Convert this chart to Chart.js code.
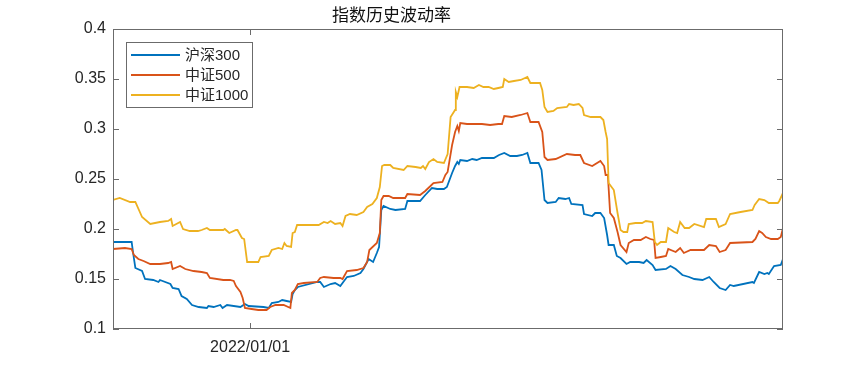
<!DOCTYPE html>
<html>
<head>
<meta charset="utf-8">
<script src="https://cdn.jsdelivr.net/npm/chart.js@4"></script>
<style>
  html, body { margin: 0; padding: 0; background: #fff; }
  #wrap { width: 865px; height: 371px; position: relative; }
</style>
</head>
<body>
<div id="wrap"><canvas id="vol-chart"></canvas></div>
<script>
// x = days since 2021/07/01
const START_DATE = '2021/07/01'
const X_MAX = 899
const xTickDays = [184]
const xTickLabels = ['2022/01/01']
const yTicks = [0.1, 0.15, 0.2, 0.25, 0.3, 0.35, 0.4]

const seriesNames = ['沪深300', '中证500', '中证1000']
const seriesColors = ['#0072BD', '#D95319', '#EDB120']

const hs300Days = [0,25,27,30,39,43,54,61,63,77,80,88,92,99,106,115,126,128,135,144,147,153,171,177,182,202,209,213,222,227,233,239,241,244,248,274,278,283,292,298,305,309,314,323,332,336,343,349,354,357,360,363,372,379,392,395,412,419,428,435,444,448,455,459,462,464,466,475,482,488,495,511,518,525,533,542,549,556,560,571,575,579,583,594,598,607,612,615,630,632,643,647,654,659,663,665,672,676,681,689,694,706,712,716,724,728,742,748,755,764,773,780,791,800,806,814,822,828,833,858,860,867,874,878,880,887,896,899]
const hs300Vol = [0.187,0.187,0.176,0.161,0.158,0.150,0.149,0.147,0.149,0.145,0.141,0.140,0.133,0.130,0.124,0.122,0.121,0.123,0.122,0.124,0.121,0.124,0.122,0.125,0.123,0.122,0.121,0.126,0.127,0.129,0.128,0.127,0.135,0.139,0.142,0.147,0.147,0.142,0.145,0.146,0.143,0.147,0.152,0.153,0.156,0.160,0.170,0.167,0.176,0.182,0.219,0.223,0.220,0.219,0.220,0.228,0.228,0.234,0.241,0.240,0.240,0.242,0.256,0.263,0.267,0.265,0.269,0.268,0.270,0.269,0.271,0.271,0.274,0.276,0.273,0.273,0.274,0.276,0.266,0.266,0.259,0.229,0.226,0.227,0.231,0.230,0.231,0.225,0.224,0.215,0.213,0.216,0.216,0.211,0.194,0.184,0.184,0.173,0.171,0.165,0.167,0.167,0.166,0.169,0.164,0.159,0.160,0.163,0.160,0.154,0.152,0.150,0.149,0.152,0.147,0.141,0.139,0.144,0.143,0.147,0.146,0.157,0.155,0.156,0.155,0.163,0.164,0.170]

const zz500Days = [0,16,25,28,34,41,50,63,74,78,80,90,97,108,119,126,130,148,157,162,165,171,174,177,186,195,206,211,218,229,238,240,244,248,256,274,278,283,296,305,308,314,327,336,341,344,354,358,360,363,370,376,392,395,412,419,426,430,442,446,449,455,459,462,464,466,475,482,488,495,506,517,522,525,535,547,556,560,571,576,579,583,594,609,620,627,632,643,654,659,661,664,667,672,677,681,689,692,699,708,715,721,726,728,735,742,745,755,761,766,775,793,800,809,814,822,828,858,862,867,871,876,883,892,896,899]
const zz500Vol = [0.180,0.181,0.180,0.174,0.170,0.168,0.165,0.165,0.166,0.167,0.160,0.163,0.160,0.158,0.157,0.156,0.151,0.149,0.149,0.148,0.143,0.137,0.131,0.121,0.120,0.119,0.119,0.122,0.124,0.124,0.121,0.136,0.139,0.145,0.146,0.147,0.151,0.152,0.151,0.151,0.150,0.158,0.159,0.161,0.167,0.179,0.186,0.196,0.229,0.233,0.233,0.231,0.231,0.235,0.234,0.238,0.243,0.246,0.247,0.254,0.257,0.284,0.297,0.303,0.298,0.306,0.305,0.305,0.305,0.305,0.304,0.305,0.305,0.313,0.312,0.314,0.316,0.307,0.307,0.297,0.272,0.269,0.270,0.275,0.274,0.274,0.266,0.263,0.268,0.263,0.254,0.254,0.216,0.211,0.197,0.184,0.177,0.186,0.189,0.189,0.192,0.190,0.189,0.171,0.172,0.173,0.180,0.177,0.181,0.176,0.179,0.179,0.184,0.183,0.177,0.179,0.186,0.187,0.190,0.198,0.196,0.192,0.190,0.190,0.192,0.201]

const zz1000Days = [0,9,23,30,39,50,63,74,78,80,90,94,103,114,119,126,130,148,150,156,165,167,173,176,180,195,198,209,213,222,227,230,233,239,241,244,247,276,283,288,292,298,305,308,312,318,327,336,341,348,354,358,361,364,372,376,390,395,406,413,416,419,424,430,435,444,449,453,459,460,462,465,475,484,491,497,504,511,517,523,525,531,538,547,556,560,573,576,579,583,591,596,609,612,618,625,630,632,641,654,658,661,663,665,672,677,681,685,690,692,701,710,715,724,727,730,735,742,745,753,757,761,767,773,780,793,796,809,813,822,828,842,858,861,867,874,880,892,894,899]
const zz1000Vol = [0.229,0.231,0.227,0.227,0.212,0.205,0.207,0.208,0.210,0.203,0.207,0.200,0.198,0.198,0.199,0.201,0.199,0.199,0.200,0.196,0.199,0.199,0.191,0.190,0.167,0.167,0.172,0.173,0.179,0.181,0.180,0.186,0.183,0.182,0.196,0.197,0.204,0.204,0.207,0.206,0.208,0.205,0.206,0.203,0.213,0.215,0.214,0.217,0.222,0.225,0.231,0.242,0.263,0.264,0.264,0.261,0.259,0.263,0.262,0.261,0.263,0.260,0.267,0.270,0.267,0.266,0.275,0.312,0.319,0.337,0.332,0.342,0.342,0.341,0.344,0.342,0.342,0.340,0.341,0.342,0.350,0.347,0.348,0.349,0.352,0.346,0.346,0.339,0.322,0.317,0.318,0.321,0.322,0.325,0.324,0.325,0.321,0.314,0.312,0.312,0.309,0.297,0.290,0.246,0.239,0.216,0.199,0.197,0.197,0.205,0.206,0.206,0.208,0.207,0.187,0.184,0.187,0.187,0.201,0.197,0.196,0.207,0.201,0.201,0.205,0.202,0.210,0.210,0.202,0.205,0.215,0.217,0.219,0.224,0.230,0.229,0.226,0.226,0.228,0.236]

const FONT = "'Liberation Sans', Arial, 'Noto Sans CJK SC', sans-serif"
const TEXT_COLOR = '#262626'
const AXIS_COLOR = '#6b6b6b'

function toPoints(days, vals) {
    return days.map((d, i) => ({ x: d, y: vals[i] }))
}

// MATLAB style box with inward ticks
const boxPlugin = {
    id: 'boxPlugin',
    afterDatasetsDraw(chart) {
        const { ctx, chartArea: a, scales } = chart
        ctx.save()
        ctx.strokeStyle = AXIS_COLOR
        ctx.lineWidth = 1
        ctx.strokeRect(Math.round(a.left) + 0.5, Math.round(a.top) + 0.5,
            Math.round(a.right - a.left) - 1, Math.round(a.bottom - a.top) - 1)
        ctx.beginPath()
        yTicks.forEach(v => {
            const y = Math.round(scales.y.getPixelForValue(v)) + 0.5
            ctx.moveTo(a.left, y); ctx.lineTo(a.left + 6, y)
            ctx.moveTo(a.right, y); ctx.lineTo(a.right - 6, y)
        })
        xTickDays.forEach(d => {
            const x = Math.round(scales.x.getPixelForValue(d)) + 0.5
            ctx.moveTo(x, a.bottom); ctx.lineTo(x, a.bottom - 6)
            ctx.moveTo(x, a.top); ctx.lineTo(x, a.top + 6)
        })
        ctx.stroke()
        ctx.restore()
    }
}

// legend box in the upper left of the plot
const legendPlugin = {
    id: 'legendPlugin',
    afterDraw(chart) {
        const { ctx, chartArea: a } = chart
        const bx = a.left + 13, by = a.top + 13, bw = 126, bh = 65
        ctx.save()
        ctx.fillStyle = '#fff'
        ctx.fillRect(bx, by, bw, bh)
        ctx.strokeStyle = AXIS_COLOR
        ctx.lineWidth = 1
        ctx.strokeRect(bx + 0.5, by + 0.5, bw, bh)
        ctx.font = '15px ' + FONT
        ctx.textBaseline = 'middle'
        chart.data.datasets.forEach((ds, i) => {
            const y = by + 13 + i * 20
            ctx.strokeStyle = ds.borderColor
            ctx.lineWidth = 2
            ctx.beginPath()
            ctx.moveTo(bx + 5, y); ctx.lineTo(bx + 54, y)
            ctx.stroke()
            ctx.fillStyle = TEXT_COLOR
            ctx.fillText(ds.label, bx + 59, y + 1)
        })
        ctx.restore()
    }
}

new Chart(document.getElementById('vol-chart').getContext('2d'), {
    type: 'line',
    data: {
        datasets: [
            { label: seriesNames[0], data: toPoints(hs300Days, hs300Vol), borderColor: seriesColors[0], order: 3 },
            { label: seriesNames[1], data: toPoints(zz500Days, zz500Vol), borderColor: seriesColors[1], order: 2 },
            { label: seriesNames[2], data: toPoints(zz1000Days, zz1000Vol), borderColor: seriesColors[2], order: 1 },
        ],
    },
    options: {
        responsive: true,
        maintainAspectRatio: false,
        animation: false,
        layout: { padding: { left: 0, right: 82, top: 0, bottom: 0 } },
        elements: {
            line: { borderWidth: 1.8, tension: 0, fill: false },
            point: { radius: 0 },
        },
        plugins: {
            legend: { display: false },
            tooltip: { enabled: false },
            title: {
                display: true,
                text: '指数历史波动率',
                color: '#111',
                font: { family: "'Noto Sans CJK SC', sans-serif", size: 17, weight: 'normal', lineHeight: 1.2 },
                padding: { top: 4, bottom: 4.6 },
            },
        },
        scales: {
            x: {
                type: 'linear',
                min: 0,
                max: X_MAX,
                grid: { display: false, drawTicks: false },
                border: { display: false },
                afterBuildTicks: (scale) => { scale.ticks = xTickDays.map(v => ({ value: v })) },
                afterFit: (scale) => { scale.height = 42 },
                ticks: {
                    padding: 9,
                    color: TEXT_COLOR,
                    font: { family: FONT, size: 16 },
                    maxRotation: 0,
                    callback: (v) => {
                        const i = xTickDays.indexOf(v)
                        return i >= 0 ? xTickLabels[i] : ''
                    },
                },
            },
            y: {
                min: 0.1,
                max: 0.4,
                grid: { display: false, drawTicks: false },
                border: { display: false },
                afterBuildTicks: (scale) => { scale.ticks = yTicks.map(v => ({ value: v })) },
                afterFit: (scale) => { scale.width = 113 },
                ticks: {
                    padding: 7,
                    color: TEXT_COLOR,
                    font: { family: FONT, size: 16 },
                    callback: (v) => String(Number(v.toFixed(2))),
                },
            },
        },
    },
    plugins: [boxPlugin, legendPlugin],
});
</script>
</body>
</html>
